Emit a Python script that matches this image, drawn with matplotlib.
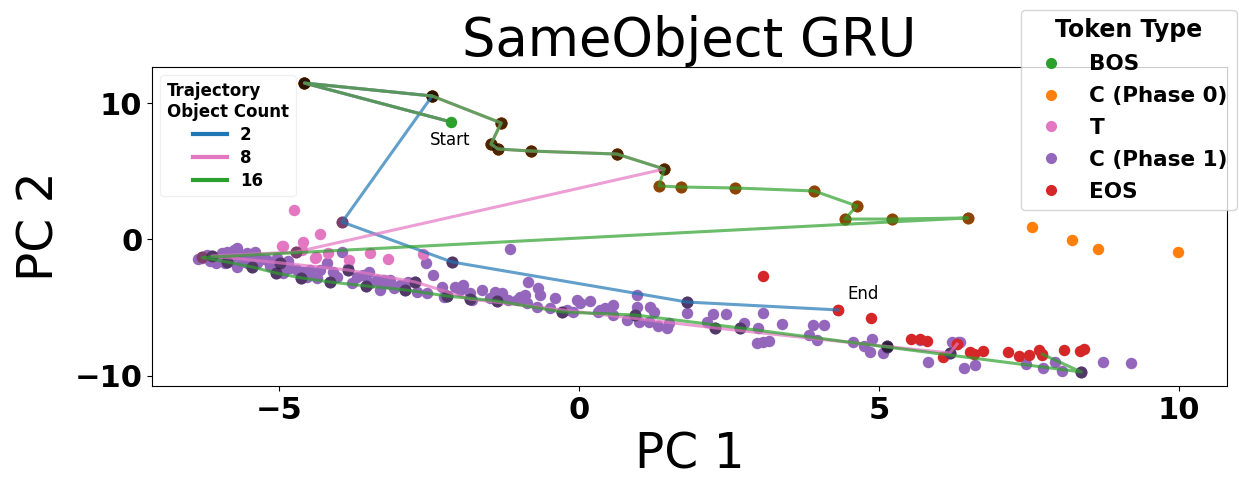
import matplotlib.pyplot as plt
from matplotlib.lines import Line2D

# token colours
c_bos = "tab:green"
c_c0 = "tab:orange"
c_t = "tab:pink"
c_c1 = "tab:purple"
c_eos = "tab:red"

# ---- background token clouds ----
bos_x = [-2.13]
bos_y = [8.62]

c0_x = [7.55, 8.22, 8.65, 9.98]
c0_y = [0.92, -0.04, -0.70, -0.90]

t_x = [-4.75, -4.32, -4.93, -4.60, -4.62, -4.38, -4.18, -3.83, -3.48, -3.18, -2.60, -4.40, -4.96]
t_y = [2.16, 0.40, -0.45, -0.16, -0.77, -1.30, -1.00, -1.50, -1.00, -1.45, -1.10, -1.38, -0.48]

c1_x = [-6.29, -6.21, -6.07, -5.96, -5.87, -5.76, -5.71, -5.79, -5.65, -5.54, -5.40, -5.57,
        -5.37, -5.21, -5.04, -4.93, -4.93, -4.82, -4.71, -4.60, -4.48, -4.54, -4.37, -4.32,
        -4.21, -4.10, -4.04, -3.96, -3.85, -3.79, -3.71, -3.60, -3.51, -3.48, -3.37, -3.26,
        -3.32, -3.21, -3.15, -3.09, -2.98, -2.85, -2.71, -2.54, -2.55, -2.43, -2.29, -2.26,
        -2.07, -1.93, -1.98, -1.82, -1.79, -1.62, -1.48, -1.40, -1.29, -1.18, -1.16, -1.04,
        -0.98, -0.90, -0.85, -0.87, -0.70, -0.68, -0.65, -0.48, -0.40, -0.21, -0.10, -0.04,
        0.02, 0.18, 0.32, 0.35, 0.43, 0.57, 0.57, 0.79, 0.97, 0.97, 0.99, 1.16, 1.18, 1.24,
        1.31, 1.47, 1.49, 1.79, 2.13, 2.23, 2.45, 2.75, 2.98, 2.96, 3.06, 3.06, 3.16, 3.39,
        3.84, 3.90, 3.97, 4.09, 4.57, 4.75, 4.85, 4.88, 5.07, 5.68, 5.81, 6.21, 6.32, 6.41,
        6.60, 6.35, 7.45, 7.74, 7.93, 8.05, 8.74, 9.20,
        -6.35, -6.15, -6.00, -5.90, -5.82, -5.62, -5.50, -5.30, -5.15, -4.98, -4.85, -5.45,
        -6.05, -5.70]
c1_y = [-1.38, -1.14, -1.50, -1.01, -0.89, -0.77, -0.65, -1.26, -1.14, -1.01, -0.89, -1.63,
        -1.75, -1.50, -1.38, -1.75, -2.48, -2.11, -2.24, -2.36, -2.24, -2.73, -2.85, -2.24,
        -1.75, -2.36, -2.73, -0.89, -2.11, -3.21, -2.73, -2.60, -2.36, -3.21, -2.97, -2.97,
        -3.71, -3.21, -2.97, -3.58, -3.34, -3.10, -3.83, -3.95, -1.75, -2.60, -3.46, -4.20,
        -3.46, -3.34, -3.71, -3.95, -4.44, -3.71, -4.31, -3.83, -3.95, -4.44, -0.70, -4.44,
        -4.20, -4.07, -3.10, -4.68, -4.93, -3.58, -4.07, -5.05, -4.31, -5.17, -5.30, -4.44,
        -4.68, -4.49, -5.30, -5.17, -5.05, -4.80, -5.54, -5.91, -4.07, -4.93, -6.03, -6.03,
        -4.93, -5.30, -6.32, -6.52, -6.15, -5.41, -6.03, -5.46, -5.46, -6.10, -6.52, -7.57,
        -5.37, -7.50, -7.45, -6.20, -7.00, -6.27, -7.37, -6.27, -7.50, -7.81, -8.23, -7.32,
        -8.35, -7.37, -8.97, -7.50, -7.50, -9.45, -9.21, -7.50, -9.13, -9.45, -8.96, -9.62,
        -9.01, -9.04,
        -1.45, -1.60, -1.25, -1.70, -1.35, -1.55, -1.80, -1.40, -1.95, -2.10, -1.60, -1.50,
        -1.75, -2.00]

eos_x = [4.32, 4.87, 5.53, 5.68, 5.80, 6.07, 6.30, 6.52, 6.58, 6.73, 7.15, 7.33, 7.50,
         7.67, 7.72, 8.08, 8.35, 8.42, 3.07]
eos_y = [-5.17, -5.75, -7.30, -7.30, -7.45, -8.62, -7.67, -8.25, -8.40, -8.18, -8.25, -8.55,
         -8.47, -8.10, -8.47, -8.10, -8.18, -8.03, -2.68]

# ---- trajectories (BOS, C phase 0 ..., T, C phase 1 ..., EOS) ----
c0_path_x = [-4.58, -2.45, -1.30, -1.47, -1.35, -0.80, 0.63, 1.42,
             1.33, 1.70, 2.60, 3.92, 4.63, 4.43, 5.22, 6.48]
c0_path_y = [11.48, 10.53, 8.55, 7.00, 6.64, 6.49, 6.27, 5.17,
             3.93, 3.85, 3.78, 3.56, 2.46, 1.50, 1.50, 1.58]

traj2_t = (-3.95, 1.28)
traj2_c1_x = [-2.12, 1.80]
traj2_c1_y = [-1.65, -4.59]
traj2_eos = (4.32, -5.17)

traj8_t = (-4.72, -0.92)
traj8_c1_x = [-6.12, -4.98, -3.85, -2.73, -1.82, 2.27, 5.13, 6.18]
traj8_c1_y = [-1.21, -1.72, -2.24, -3.12, -4.37, -6.49, -7.85, -8.33]
traj8_eos = (6.30, -7.67)

traj16_t = (-6.28, -1.32)
traj16_c1_x = [-5.87, -5.45, -5.05, -4.63, -4.15, -3.55, -2.90, -2.20, -1.37, -0.28,
               0.93, 2.68, 5.13, 8.37]
traj16_c1_y = [-1.65, -2.02, -2.46, -2.82, -3.12, -3.41, -3.70, -4.15, -4.51, -5.32,
               -5.54, -6.49, -7.89, -9.72]
traj16_eos = (7.72, -8.42)

traj_counts = ["2", "8", "16"]
traj_colors = ["tab:blue", "tab:pink", "tab:green"]

fig = plt.figure(figsize=(12.39, 4.78), dpi=100)
ax = fig.add_axes([0.1227, 0.1925, 0.8676, 0.6674])

ms = 68
ax.scatter(c1_x, c1_y, s=ms, color=c_c1, lw=0, zorder=2)
ax.scatter(t_x, t_y, s=ms, color=c_t, lw=0, zorder=2)
ax.scatter(c0_x, c0_y, s=ms, color=c_c0, lw=0, zorder=2)
ax.scatter(eos_x, eos_y, s=ms, color=c_eos, lw=0, zorder=2)

trajs = [
    (2, traj2_t, traj2_c1_x, traj2_c1_y, traj2_eos),
    (8, traj8_t, traj8_c1_x, traj8_c1_y, traj8_eos),
    (16, traj16_t, traj16_c1_x, traj16_c1_y, traj16_eos),
]
for (n, t, cx, cy, eos), col in zip(trajs, traj_colors):
    xs = [bos_x[0]] + c0_path_x[:n] + [t[0]] + cx + [eos[0]]
    ys = [bos_y[0]] + c0_path_y[:n] + [t[1]] + cy + [eos[1]]
    # middle tokens get a dark overlay
    ax.scatter(c0_path_x[:n], c0_path_y[:n], s=75, color=c_c0, lw=0, zorder=3)
    ax.scatter([t[0]], [t[1]], s=75, color=c_t, lw=0, zorder=3)
    ax.scatter(cx, cy, s=75, color=c_c1, lw=0, zorder=3)
    mx = c0_path_x[:n] + [t[0]] + cx
    my = c0_path_y[:n] + [t[1]] + cy
    ax.scatter(mx, my, s=75, color="black", alpha=0.45, lw=0, zorder=3.5)
    ax.plot(xs, ys, color=col, lw=2.2, alpha=0.7, zorder=4)
    ax.scatter([eos[0]], [eos[1]], s=ms, color=c_eos, lw=0, zorder=3)

ax.scatter(bos_x, bos_y, s=ms, color=c_bos, lw=0, zorder=5)
ax.text(-2.15, 7.3, "Start", fontsize=12, ha="center", va="center")
ax.text(4.48, -4.0, "End", fontsize=12, ha="left", va="center")

ax.set_xlim(-7.12, 10.8)
ax.set_ylim(-10.75, 12.66)
ax.set_xticks([-5, 0, 5, 10])
ax.set_yticks([-10, 0, 10])
for lab in ax.get_xticklabels() + ax.get_yticklabels():
    lab.set_fontweight("bold")
    lab.set_fontsize(22)
ax.set_xlabel("PC 1", fontsize=35, labelpad=4)
ax.set_ylabel("PC 2", fontsize=35, labelpad=8)
ax.set_title("SameObject GRU", fontsize=38, pad=2)

line_handles = [Line2D([], [], color=c, lw=3) for c in traj_colors]
leg1 = ax.legend(line_handles, traj_counts, loc="upper left",
                 title="Trajectory\nObject Count", labelspacing=0.3,
                 prop={"weight": "bold", "size": 12},
                 title_fontproperties={"weight": "bold", "size": 12})
leg1.get_title().set_multialignment("left")
leg1.get_frame().set_edgecolor("0.93")
ax.add_artist(leg1)

type_labels = ["BOS", "C (Phase 0)", "T", "C (Phase 1)", "EOS"]
type_colors = [c_bos, c_c0, c_t, c_c1, c_eos]
dot_handles = [Line2D([], [], marker="o", ls="", color=c, markersize=7) for c in type_colors]
ax.legend(dot_handles, type_labels, loc="upper left", bbox_to_anchor=(0.808, 1.179),
          borderaxespad=0, title="Token Type", labelspacing=0.55,
          prop={"weight": "bold", "size": 15.5},
          title_fontproperties={"weight": "bold", "size": 17})

fig.savefig("out.png", dpi=100)
